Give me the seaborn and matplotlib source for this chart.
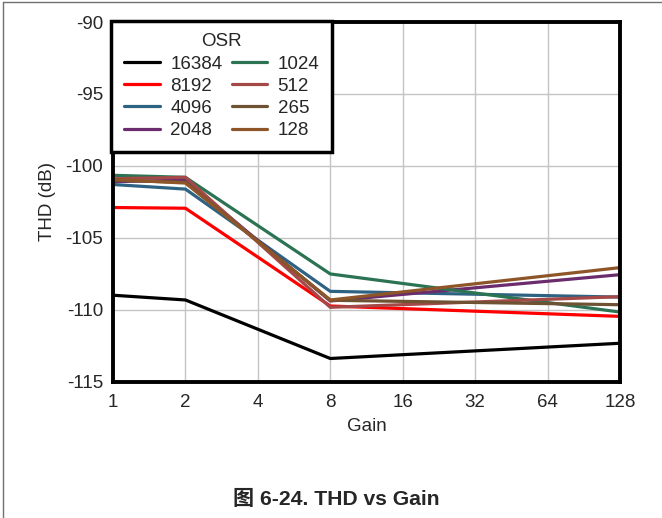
import matplotlib
matplotlib.use('Agg')
import matplotlib.pyplot as plt
import numpy as np
import pandas as pd
import seaborn as sns
from matplotlib.lines import Line2D
from matplotlib.ticker import FixedLocator, FixedFormatter, NullLocator

gain = [1, 2, 8, 128]
osr_labels = ['16384', '8192', '4096', '2048', '1024', '512', '265', '128']
thd_16384 = [-109.0, -109.33, -113.4, -112.34]
thd_8192 = [-102.9, -102.95, -109.75, -110.47]
thd_4096 = [-101.3, -101.62, -108.73, -109.13]
thd_2048 = [-101.1, -101.0, -109.4, -107.57]
thd_1024 = [-100.66, -100.8, -107.52, -110.17]
thd_512 = [-100.9, -100.8, -109.84, -109.1]
thd_265 = [-101.0, -101.15, -109.35, -109.66]
thd_128 = [-100.95, -101.2, -109.33, -107.08]

colors = ['#000000', '#FF0000', '#2E6282', '#6A2C6C',
          '#2B7352', '#A54848', '#6E5232', '#8E5528']

series = [thd_16384, thd_8192, thd_4096, thd_2048,
          thd_1024, thd_512, thd_265, thd_128]

rows = []
for label, vals in zip(osr_labels, series):
    for g, v in zip(gain, vals):
        rows.append({'Gain': g, 'THD': v, 'OSR': label})
df = pd.DataFrame(rows)

sns.set_style('white')
plt.rcParams['font.family'] = ['Liberation Sans', 'DejaVu Sans']

fs = 13.5
fig = plt.figure(figsize=(6.62, 5.18), dpi=100)
ax = fig.add_axes([0.1707, 0.2635, 0.9366 - 0.1707, 0.9575 - 0.2635])

sns.lineplot(data=df, x='Gain', y='THD', hue='OSR', hue_order=osr_labels,
             palette=dict(zip(osr_labels, colors)), linewidth=2.3,
             ax=ax, legend=False)

ax.set_xscale('log', base=2)
ax.set_xlim(1, 128)
ax.set_ylim(-115, -90)
xt = [1, 2, 4, 8, 16, 32, 64, 128]
ax.xaxis.set_major_locator(FixedLocator(xt))
ax.xaxis.set_major_formatter(FixedFormatter([str(v) for v in xt]))
ax.xaxis.set_minor_locator(NullLocator())
ax.set_yticks([-115, -110, -105, -100, -95, -90])
ax.set_yticklabels(['-115', '-110', '-105', '-100', '-95', '-90'])
ax.tick_params(axis='both', length=0, labelsize=fs)
ax.tick_params(axis='x', pad=9)
ax.tick_params(axis='y', pad=7)
ax.grid(True, color='#C4C4C4', linewidth=1)
ax.set_axisbelow(True)
for s in ax.spines.values():
    s.set_visible(True)
    s.set_color('black')
    s.set_linewidth(2.8)

ax.set_xlabel('Gain', fontsize=fs, labelpad=5)
ax.set_ylabel('THD (dB)', fontsize=fs, labelpad=7)

handles = [Line2D([], [], color=c, linewidth=2.3) for c in colors]
leg = ax.legend(handles, osr_labels, title='OSR', ncol=2, loc='upper left',
                bbox_to_anchor=(-0.003, 1.004), fontsize=fs, title_fontsize=fs,
                frameon=True, fancybox=False, handlelength=1.9, handletextpad=0.55,
                columnspacing=0.5, labelspacing=0.27, borderpad=0.68,
                borderaxespad=0)
leg.get_frame().set_edgecolor('black')
leg.get_frame().set_linewidth(2.5)
leg.get_frame().set_alpha(1)

fig.text(0.508, 0.036, '图 6-24. THD vs Gain', ha='center', va='center',
         fontsize=15.2, fontweight='bold',
         family=['Liberation Sans', 'Noto Sans CJK SC'])

fig.add_artist(Line2D([0.005, 0.005], [0, 0.996], transform=fig.transFigure,
                      color='#707070', linewidth=1))
fig.add_artist(Line2D([0.005, 1], [0.996, 0.996], transform=fig.transFigure,
                      color='#707070', linewidth=1))

fig.savefig('out.png', dpi=100)
